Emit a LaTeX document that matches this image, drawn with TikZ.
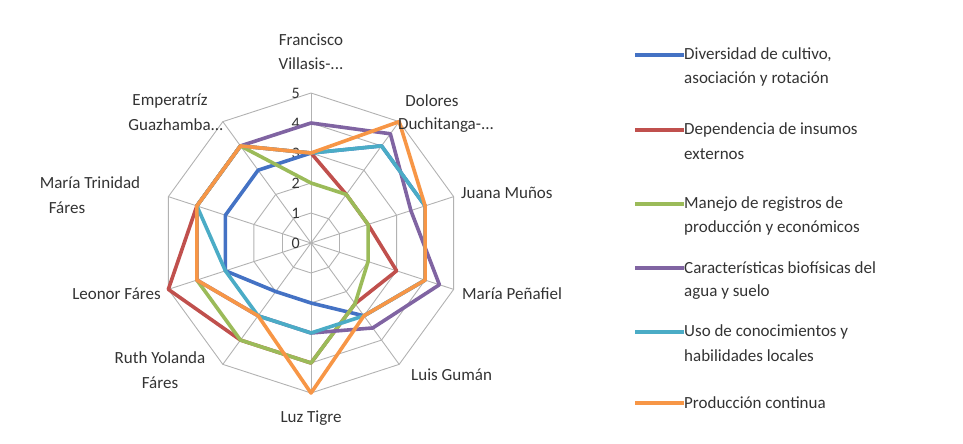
\documentclass[tikz,border=0pt]{standalone}
\usepackage{fontspec}
\setmainfont{Carlito}
\usetikzlibrary{calc}
\begin{document}
\begin{tikzpicture}[x=1pt,y=-1pt,
  lbl/.style={font=\fontsize{17}{20}\selectfont,text=black!80,inner sep=0},
  tk/.style={font=\fontsize{16}{19}\selectfont,text=black!80,inner sep=0},
  ser/.style={line width=3.6pt,line join=round},
  grid/.style={draw=black!30,line width=0.9pt}]
\useasboundingbox (0,0) rectangle (963,444);
\definecolor{cb}{RGB}{68,114,196}
\definecolor{cr}{RGB}{192,80,77}
\definecolor{cg}{RGB}{155,187,89}
\definecolor{cp}{RGB}{128,100,162}
\definecolor{ct}{RGB}{75,172,198}
\definecolor{co}{RGB}{247,150,70}
\coordinate (O) at (311,243);
\foreach \r in {1,...,5}{
  \foreach \i in {0,...,9}{\coordinate (g\i) at ($(O)+({sin(36*\i)*30*\r},{-cos(36*\i)*30*\r})$);}
  \draw[grid] (g0)--(g1)--(g2)--(g3)--(g4)--(g5)--(g6)--(g7)--(g8)--(g9)--cycle;}
\foreach \i in {0,...,9}{\draw[grid] (O) -- ++({sin(36*\i)*150},{-cos(36*\i)*150});}
\foreach \k in {0,...,5}{\node[tk,anchor=east] (t\k) at (300,{243-30*\k}) {\k};}
\newcommand\series[2]{%
  \foreach \v [count=\i from 0] in {#2}{\coordinate (p\i) at ($(O)+({sin(36*\i)*30*\v},{-cos(36*\i)*30*\v})$);}
  \draw[ser,#1] (p0)--(p1)--(p2)--(p3)--(p4)--(p5)--(p6)--(p7)--(p8)--(p9)--cycle;}
\series{cb}{3,4,4,4,3,2,2,3,3,3}
\series{cr}{3,2,2,3,2.5,4,4,5,4,4}
\series{cg}{2,2,2,2,2.5,4,4,4,4,4}
\series{cp}{4,4.5,3.5,4.5,3.5,3,3,4,4,4}
\series{ct}{3,4,4,4,3,3,3,3,4,4}
\series{co}{3,5,4,4,3,5,3,4,4,4}
\node[lbl] (a0) at (311,40) {Francisco};
\node[lbl] (a0b) at (311,64) {Villasis-...};
\node[lbl] (a1) at (432,101) {Dolores};
\node[lbl] (a1b) at (446,125) {Duchitanga-...};
\node[lbl,anchor=west] (a2) at (461,193) {Juana Muños};
\node[lbl,anchor=west] (a3) at (462,294) {María Peñafiel};
\node[lbl,anchor=west] (a4) at (411,375) {Luis Gumán};
\node[lbl] (a5) at (311,418) {Luz Tigre};
\node[lbl] (a6) at (160,358) {Ruth Yolanda};
\node[lbl] (a6b) at (160,383) {Fáres};
\node[lbl,anchor=east] (a7) at (161,294) {Leonor Fáres};
\node[lbl] (a8) at (90,183) {María Trinidad};
\node[lbl] (a8b) at (67,208) {Fáres};
\node[lbl] (a9) at (170,101) {Emperatríz};
\node[lbl] (a9b) at (176,125) {Guazhamba...};
\foreach \c/\y/\ta/\tb [count=\n] in {cb/55/{Diversidad de cultivo,}/{asociación y rotación},cr/130/{Dependencia de insumos}/{externos},cg/204/{Manejo de registros de}/{producción y económicos},cp/268/{Características biofísicas del}/{agua y suelo},ct/332/{Uso de conocimientos y}/{habilidades  locales}}{
  \coordinate (l\n) at (635,\y);
  \node[lbl,anchor=west] (lt\n) at (684,\y) {\ta};
  \node[lbl,anchor=west] (lu\n) at (684,\y+24) {\tb};
  \draw[ser,\c] (l\n) -- (lt\n.west);}
\coordinate (l6) at (635,403);
\node[lbl,anchor=west] (lt6) at (684,403) {Producción continua};
\draw[ser,co] (l6) -- (lt6.west);
\end{tikzpicture}
\end{document}
